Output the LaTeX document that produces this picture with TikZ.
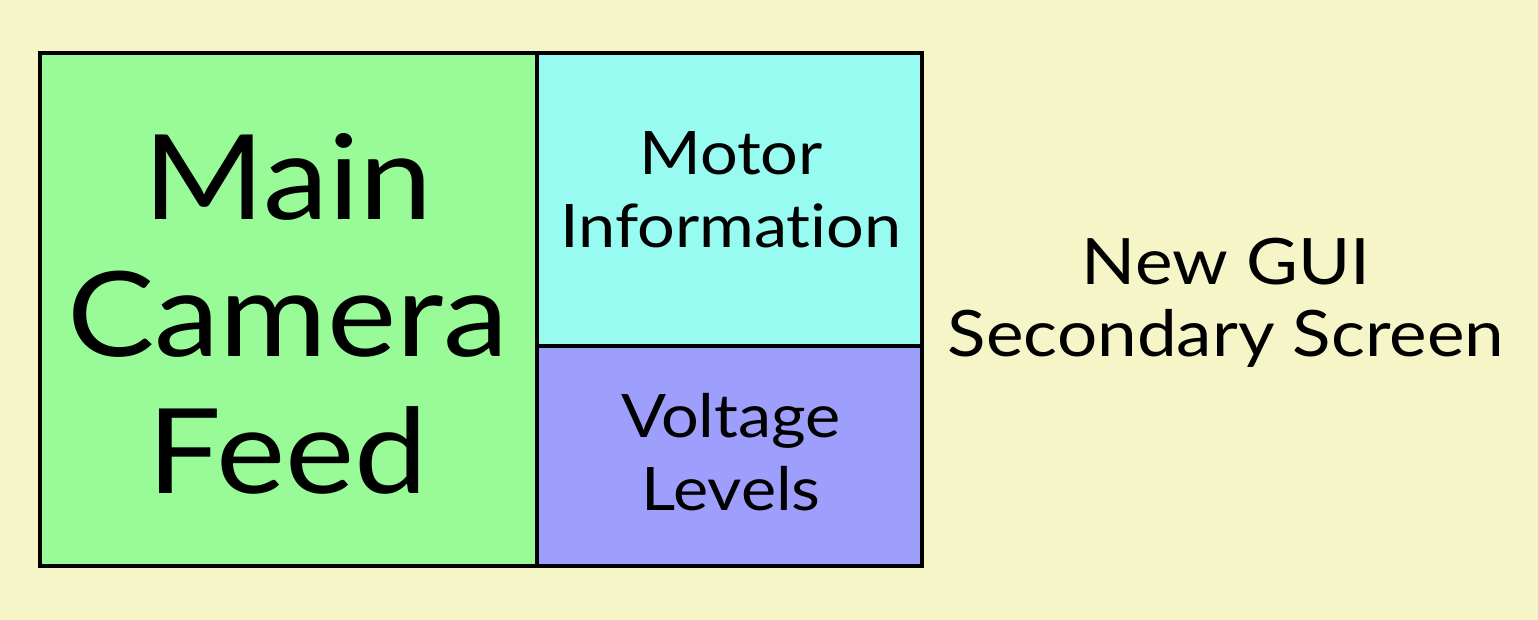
\documentclass[tikz,border=0pt]{standalone}
\usepackage{fontspec}
\setmainfont[Ligatures=NoCommon, FakeStretch=1.11]{Lato}
\definecolor{paper}{HTML}{F5F5C8}
\definecolor{feedgreen}{HTML}{98FB98}
\definecolor{motorcyan}{HTML}{98FBF2}
\definecolor{voltpurple}{HTML}{9E9EFC}
\newcommand*{\bigtext}{\fontsize{59}{68.5}\selectfont}
\newcommand*{\boxtext}{\fontsize{30}{36.5}\selectfont}
\newcommand*{\sidetext}{\fontsize{32}{36}\selectfont}

\begin{document}
\begin{tikzpicture}[x=0.5pt, y=-0.5pt]
        \fill[paper] (0,0) rectangle (1538,620);

        {\tikzstyle{every node}=[rectangle, draw, line width=2pt, inner sep=0pt]
          \node[fill=feedgreen, minimum width=248.5pt, minimum height=256.5pt] (feed) at (288.5, 309.5) {};
          \node[fill=motorcyan, minimum width=192.5pt, minimum height=146.5pt] (motor) at (729.5, 199.5) {};
          \node[fill=voltpurple, minimum width=192.5pt, minimum height=110pt] (volt) at (729.5, 456) {};
        }

        {\tikzstyle{every node}=[align=center, inner sep=0pt]
          \node[font=\bigtext] (feedtext) at (288, 314) {Main\\Camera\\Feed};
          \node[font=\boxtext] (motortext) at (731, 190) {Motor\\Information};
          \node[font=\boxtext] (volttext) at (731, 452) {Voltage\\Levels};
          \node[font=\sidetext] (guitext) at (1226, 303) {New GUI\\Secondary Screen};
        }
      \end{tikzpicture}
\end{document}
